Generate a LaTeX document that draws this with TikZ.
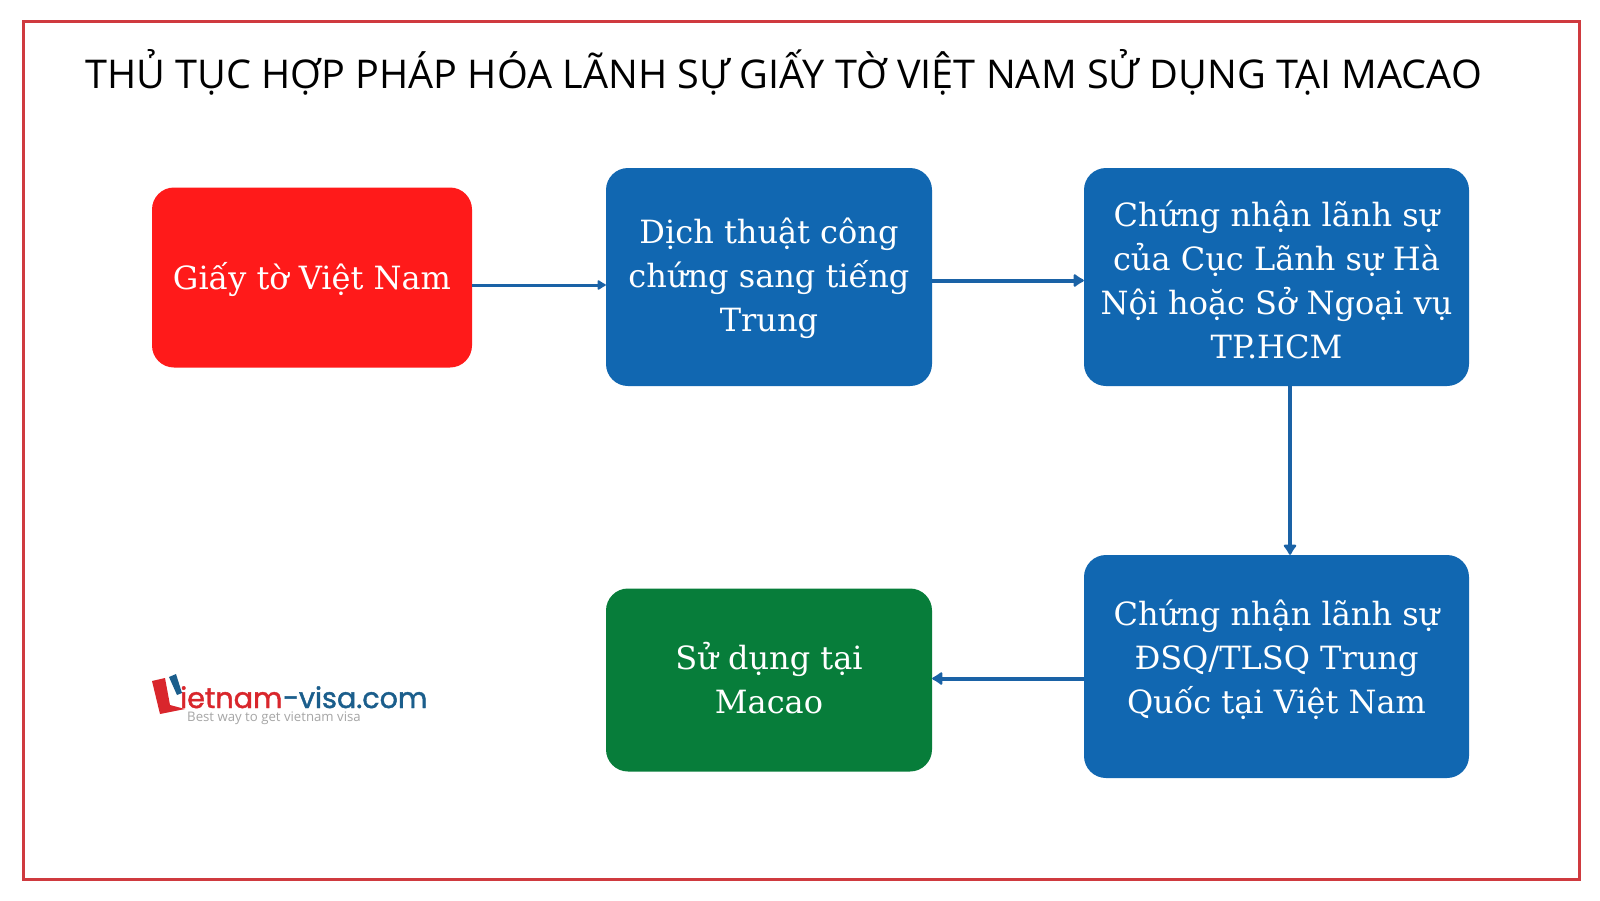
\documentclass[tikz,border=0pt]{standalone}
\usepackage{fontspec}
\setmainfont{DejaVu Serif}
\newfontfamily\titlefont{Open Sans}
\newfontfamily\logofont[FakeBold=1.5]{Poppins}
\newfontfamily\logosub{Open Sans}
\usetikzlibrary{arrows.meta}
\definecolor{framered}{HTML}{CF3A3F}
\definecolor{boxblue}{HTML}{1167B1}
\definecolor{connblue}{HTML}{1A62A6}
\definecolor{boxred}{HTML}{FF1A1A}
\definecolor{boxgreen}{HTML}{077D3A}
\definecolor{logored}{HTML}{D9262C}
\definecolor{logoblue}{HTML}{1B5E8C}
\newcommand{\ftop}[1]{\rule{0pt}{#1pt}}
\newcommand{\fbot}[1]{\rule[-#1pt]{0pt}{#1pt}}
\tikzset{
  x=1pt,y=-1pt,
  flowbox/.style={rounded corners=22pt,text=white,font=\fontsize{32}{44}\selectfont,align=center,inner sep=0pt,anchor=center},
  conn/.style={draw=connblue,line width=4pt,-{Latex[length=12pt,width=16pt,round]}},
  connthin/.style={draw=connblue,line width=3pt,-{Latex[length=10pt,width=12pt,round]}},
  logotext/.style={anchor=base west,inner sep=0pt,font=\logofont\fontsize{28.6}{31}\selectfont},
}
\begin{document}
\begin{tikzpicture}
\useasboundingbox (0,0) rectangle (1600,900);
\fill[white] (0,0) rectangle (1600,900);
\draw[framered,line width=3pt] (23.5,21.5) rectangle (1579,879);
\node[anchor=base west,inner sep=0pt,font=\titlefont\fontsize{39.6}{44}\selectfont,text=black] (title) at (85,88) {THỦ TỤC HỢP PHÁP HÓA LÃNH SỰ GIẤY TỜ VIỆT NAM SỬ DỤNG TẠI MACAO};

\node[flowbox,fill=boxred,minimum width=320pt,minimum height=180pt] (a) at (312,277.5) {\ftop{33}Giấy tờ Việt Nam\fbot{10}};
\node[flowbox,fill=boxblue,minimum width=326pt,minimum height=218pt] (b) at (769,277) {\ftop{30}Dịch thuật công\\chứng sang tiếng\\Trung\fbot{10}};
\node[flowbox,fill=boxblue,minimum width=385pt,minimum height=218pt] (c) at (1276.5,277) {\ftop{41}Chứng nhận lãnh sự\\của Cục Lãnh sự Hà\\Nội hoặc Sở Ngoại vụ\\TP.HCM\fbot{10}};
\node[flowbox,fill=boxblue,minimum width=385pt,minimum height=223pt] (d) at (1276.5,666.5) {\ftop{34}Chứng nhận lãnh sự\\ĐSQ/TLSQ Trung\\Quốc tại Việt Nam\fbot{28}};
\node[flowbox,fill=boxgreen,minimum width=326pt,minimum height=183pt] (e) at (769,680) {\ftop{32}Sử dụng tại\\Macao\fbot{10}};

\coordinate (ab) at (a.east |- 0,285);
\coordinate (ba) at (b.west |- 0,285);
\coordinate (bc) at (b.east |- 0,280.5);
\coordinate (cb) at (c.west |- 0,280.5);
\coordinate (cd) at (1290,0 |- c.south);
\coordinate (dc) at (1290,0 |- d.north);
\coordinate (de) at (d.west |- 0,678.5);
\coordinate (ed) at (e.east |- 0,678.5);
\draw[connthin] (ab) -- (ba);
\draw[conn] (bc) -- (cb);
\draw[conn] (cd) -- (dc);
\draw[conn] (de) -- (ed);

\fill[logored] (152,681) -- (165,678) -- (170,705) -- (185,709) -- (160,714) -- cycle;
\fill[logoblue] (169,677) -- (176,674) -- (182,693) -- (177,695) -- cycle;
\node[logotext,text=logored] (logoa) at (180,708) {ietnam};
\node[logotext,text=logoblue] (logob) at (283,708) {-visa.com};
\node[anchor=base west,inner sep=0pt,font=\logosub\fontsize{13.2}{14}\selectfont,text=black!35] (logoc) at (187,721) {Best way to get vietnam visa};
\end{tikzpicture}
\end{document}
